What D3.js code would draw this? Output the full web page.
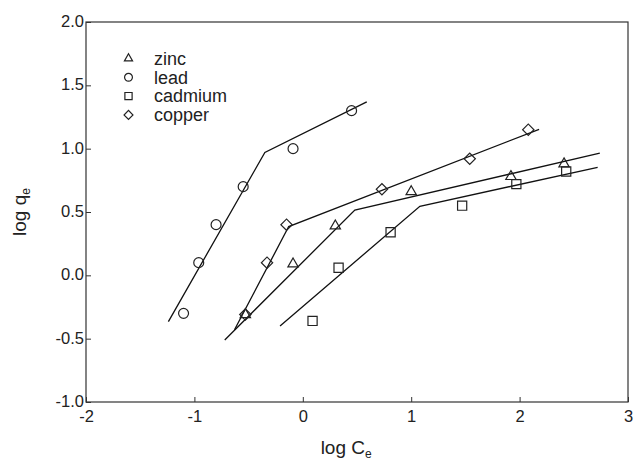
<!DOCTYPE html>
<html>
<head>
<meta charset="utf-8">
<script src="https://cdn.jsdelivr.net/npm/d3@7"></script>
<style>
  body { margin: 0; background: #fff; }
  text { font-family: "Liberation Sans", Arial, sans-serif; fill: #222; }
</style>
</head>
<body>
<div id="chart"></div>
<script>
// series values (log Ce, log qe)
var metals = ["zinc", "lead", "cadmium", "copper"];
var symbols = {zinc: d3.symbolTriangle, lead: d3.symbolCircle, cadmium: d3.symbolSquare, copper: d3.symbolSquare};

var zincX = [-0.53, -0.09, 0.30, 1.00, 1.92, 2.41];
var zincY = [-0.31, 0.09, 0.39, 0.66, 0.78, 0.88];
var leadX = [-1.10, -0.96, -0.80, -0.55, -0.09, 0.45];
var leadY = [-0.30, 0.10, 0.40, 0.70, 1.00, 1.30];
var cadmiumX = [0.09, 0.33, 0.81, 1.47, 1.97, 2.43];
var cadmiumY = [-0.36, 0.06, 0.34, 0.55, 0.72, 0.82];
var copperX = [-0.53, -0.33, -0.15, 0.73, 1.54, 2.08];
var copperY = [-0.31, 0.10, 0.40, 0.68, 0.92, 1.15];

// two-segment fitted lines (start, break, end)
var zincFitX = [-0.72, 0.48, 2.74];
var zincFitY = [-0.51, 0.515, 0.965];
var leadFitX = [-1.24, -0.35, 0.59];
var leadFitY = [-0.365, 0.97, 1.37];
var cadmiumFitX = [-0.21, 1.08, 2.72];
var cadmiumFitY = [-0.40, 0.545, 0.853];
var copperFitX = [-0.63, -0.13, 2.18];
var copperFitY = [-0.43, 0.385, 1.153];

var xTicks = [-2, -1, 0, 1, 2, 3];
var yTicks = [-1.0, -0.5, 0.0, 0.5, 1.0, 1.5, 2.0];

var points = {
  zinc: d3.zip(zincX, zincY),
  lead: d3.zip(leadX, leadY),
  cadmium: d3.zip(cadmiumX, cadmiumY),
  copper: d3.zip(copperX, copperY)
};
var fits = {
  zinc: d3.zip(zincFitX, zincFitY),
  lead: d3.zip(leadFitX, leadFitY),
  cadmium: d3.zip(cadmiumFitX, cadmiumFitY),
  copper: d3.zip(copperFitX, copperFitY)
};

var margin = {top: 22, right: 6, bottom: 59, left: 86};
var width = 634 - margin.left - margin.right,
    height = 461 - margin.top - margin.bottom;

var svg = d3.select("#chart").append("svg")
    .attr("width", 634)
    .attr("height", 461)
  .append("g")
    .attr("transform", "translate(" + margin.left + "," + margin.top + ")");

var x = d3.scaleLinear().domain([-2, 3]).range([0, width]);
var y = d3.scaleLinear().domain([-1, 2]).range([height, 0]);

// frame
svg.append("rect")
    .attr("width", width)
    .attr("height", height)
    .attr("fill", "none")
    .attr("stroke", "#333")
    .attr("stroke-width", 1.2);

// plain hyphen as minus sign, like the original
var fmtX = function(d) { return String(d); };
var fmtY = function(d) { return d.toFixed(1).replace("-0.0", "0.0"); };

// axes with inward ticks
var xAxis = d3.axisBottom(x).tickValues(xTicks).tickSizeInner(-5).tickSizeOuter(0)
    .tickPadding(9).tickFormat(fmtX);
var yAxis = d3.axisLeft(y).tickValues(yTicks).tickSizeInner(-5).tickSizeOuter(0)
    .tickPadding(2).tickFormat(fmtY);

var gx = svg.append("g")
    .attr("transform", "translate(0," + height + ")")
    .call(xAxis);
var gy = svg.append("g").call(yAxis);

[gx, gy].forEach(function(g) {
  g.select(".domain").remove();
  g.selectAll(".tick line").attr("stroke", "#333");
  g.selectAll(".tick text")
      .style("font-family", "'Liberation Sans', Arial, sans-serif")
      .style("font-size", "16.5px")
      .attr("fill", "#222");
});
gy.selectAll(".tick text").attr("dy", "0.28em");
gx.selectAll(".tick text").attr("dy", "0.68em");

// axis titles
var xt = svg.append("text")
    .attr("x", x(0.4))
    .attr("y", height + 52)
    .attr("text-anchor", "middle")
    .style("font-size", "19px");
xt.append("tspan").text("log C");
xt.append("tspan").attr("dy", 4).style("font-size", "12px").text("e");

var yt = svg.append("text")
    .attr("transform", "translate(" + (-60) + "," + y(0.5) + ") rotate(-90)")
    .attr("text-anchor", "middle")
    .style("font-size", "19px");
yt.append("tspan").text("log q");
yt.append("tspan").attr("dy", 4).style("font-size", "12px").text("e");

// fitted lines
var line = d3.line()
    .x(function(d) { return x(d[0]); })
    .y(function(d) { return y(d[1]); });

metals.forEach(function(m) {
  svg.append("path")
      .datum(fits[m])
      .attr("fill", "none")
      .attr("stroke", "#111")
      .attr("stroke-width", 1.3)
      .attr("d", line);
});

var sizes = {zinc: 46, lead: 78, cadmium: 84, copper: 64};
var rot = {zinc: 0, lead: 0, cadmium: 0, copper: 45};

// markers
metals.forEach(function(m) {
  var sym = d3.symbol().type(symbols[m]).size(sizes[m]);
  svg.selectAll(".pt-" + m)
      .data(points[m])
    .enter().append("path")
      .attr("class", "pt-" + m)
      .attr("transform", function(d) {
        return "translate(" + x(d[0]) + "," + y(d[1]) + ") rotate(" + rot[m] + ")";
      })
      .attr("d", sym)
      .attr("fill", "none")
      .attr("stroke", "#222")
      .attr("stroke-width", 1.2);
});

// legend
var legend = svg.append("g")
    .attr("transform", "translate(" + (128.5 - margin.left) + "," + (58.5 - margin.top) + ")");

metals.forEach(function(m, i) {
  var row = legend.append("g").attr("transform", "translate(0," + (i * 18.8) + ")");
  row.append("path")
      .attr("transform", "rotate(" + rot[m] + ")")
      .attr("d", d3.symbol().type(symbols[m]).size(sizes[m] * 0.62))
      .attr("fill", "none")
      .attr("stroke", "#222")
      .attr("stroke-width", 1.2);
  row.append("text")
      .attr("x", 25.5)
      .attr("dy", "0.35em")
      .style("font-size", "18px")
      .text(m);
});
</script>
</body>
</html>
